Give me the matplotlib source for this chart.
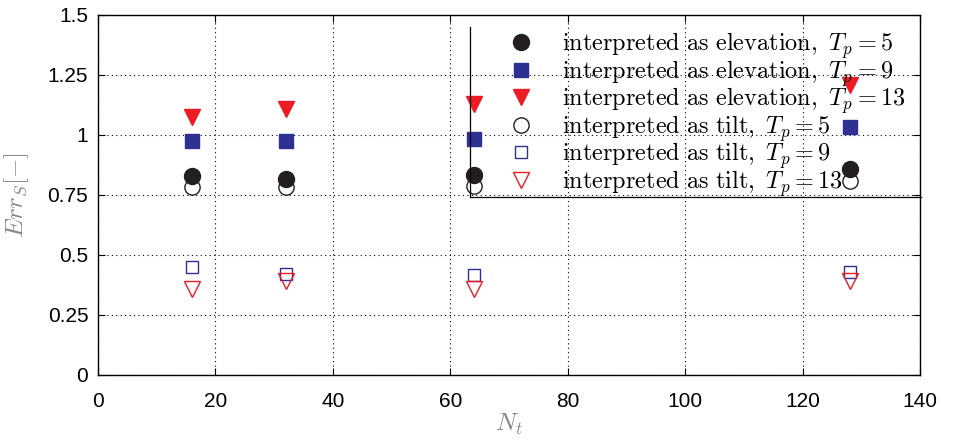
import matplotlib
matplotlib.use("Agg")
import matplotlib.pyplot as plt
from matplotlib.lines import Line2D

plt.rcParams['font.family'] = ['Liberation Sans', 'DejaVu Sans']
plt.rcParams['mathtext.fontset'] = 'cm'

nt = [16, 32, 64, 128]
elev_tp5 = [0.83, 0.817, 0.833, 0.858]
elev_tp9 = [0.975, 0.975, 0.983, 1.033]
elev_tp13 = [1.075, 1.108, 1.13, 1.21]
tilt_tp5 = [0.783, 0.783, 0.787, 0.81]
tilt_tp9 = [0.45, 0.42, 0.415, 0.43]
tilt_tp13 = [0.36, 0.39, 0.36, 0.39]

labels = [
    r'$\mathrm{interpreted\ as\ elevation,}\ T_p = 5$',
    r'$\mathrm{interpreted\ as\ elevation,}\ T_p = 9$',
    r'$\mathrm{interpreted\ as\ elevation,}\ T_p = 13$',
    r'$\mathrm{interpreted\ as\ tilt,}\ T_p = 5$',
    r'$\mathrm{interpreted\ as\ tilt,}\ T_p = 9$',
    r'$\mathrm{interpreted\ as\ tilt,}\ T_p = 13$',
]

blue = '#2E3192'
red = '#ED1C24'
black = '#231F20'

fig = plt.figure(figsize=(9.64, 4.42), dpi=100)
ax = fig.add_axes([0.1017, 0.1516, 0.8527, 0.8145])

ax.plot(nt, elev_tp5, 'o', ms=11.5, color=black, mec=black, label=labels[0])
ax.plot(nt, elev_tp9, 's', ms=9.5, color=blue, mec=blue, label=labels[1])
ax.plot(nt, elev_tp13, 'v', ms=11, color=red, mec=red, label=labels[2])
ax.plot(nt, tilt_tp5, 'o', ms=11, mfc='none', mec=black, mew=1.0, label=labels[3])
ax.plot(nt, tilt_tp9, 's', ms=8.5, mfc='none', mec=blue, mew=1.0, label=labels[4])
ax.plot(nt, tilt_tp13, 'v', ms=11, mfc='none', mec=red, mew=1.0, label=labels[5])

ax.set_xlim(0, 140)
ax.set_ylim(0, 1.5)
ax.set_xticks(range(0, 141, 20))
ax.set_yticks([0, 0.25, 0.5, 0.75, 1, 1.25, 1.5])
ax.set_yticklabels(['0', '0.25', '0.5', '0.75', '1', '1.25', '1.5'])
ax.grid(True, linestyle=(0, (1, 3)), color='black', linewidth=0.8)
ax.tick_params(direction='in', top=True, right=True, labelsize=15, length=5)
ax.tick_params(axis='x', pad=12)
ax.tick_params(axis='y', pad=7)
for s in ax.spines.values():
    s.set_linewidth(1.0)

ax.set_xlabel(r'$N_t$', fontsize=18, color='#888888', labelpad=1)
ax.set_ylabel(r'$Err_S[-]$', fontsize=18, color='#888888', labelpad=12)

leg = ax.legend(loc='upper left', bbox_to_anchor=(0.530, 0.931),
                bbox_transform=fig.transFigure, frameon=False, fontsize=17.5,
                handlelength=0.8, handletextpad=1.3, borderpad=0,
                borderaxespad=0, labelspacing=-0.13, numpoints=1)

# partial legend box, left and bottom edges only
fig.add_artist(Line2D([0.4876, 0.4876], [0.9389, 0.5543], color='black', lw=0.9,
                      transform=fig.transFigure))
fig.add_artist(Line2D([0.4876, 0.955], [0.5543, 0.5543], color='black', lw=0.9,
                      transform=fig.transFigure))

fig.savefig('out.png', dpi=100)
